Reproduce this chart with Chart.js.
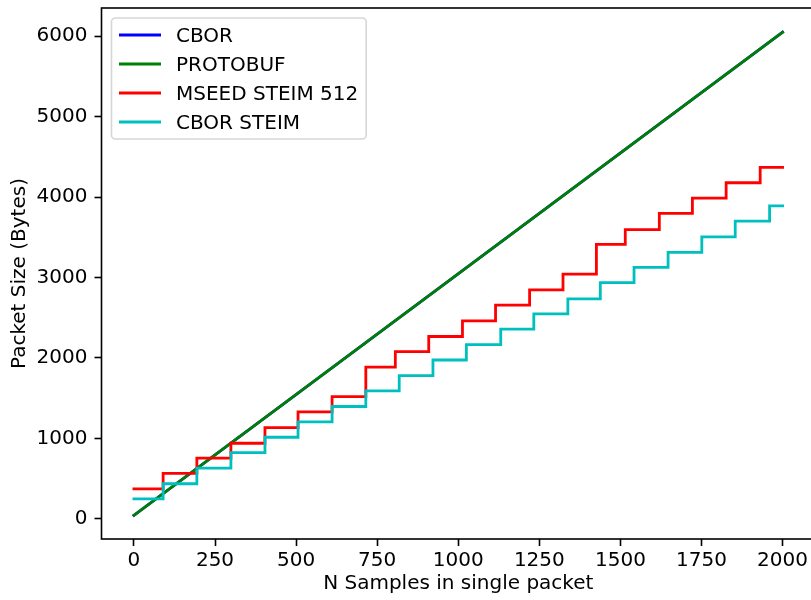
<!DOCTYPE html>
<html>
<head>
<meta charset="utf-8">
<script src="https://cdn.jsdelivr.net/npm/chart.js@4.4.1/dist/chart.umd.min.js"></script>
<style>
  html, body { margin: 0; padding: 0; background: #fff; overflow: hidden; }
  #wrap { position: absolute; left: 0; top: 0; width: 815px; height: 600px; }
</style>
</head>
<body>
<div id="wrap"><canvas id="grafico" width="815" height="600"></canvas></div>
<script>
// valores
const nSamples = [0, 2000];
const cborBytes = [45, 6050];
const protobufBytes = [45, 6050];

const mseedSteps = [0, 90, 194, 299, 404, 506, 611, 715, 806, 909, 1013, 1115, 1220, 1323, 1426, 1515, 1620, 1722, 1826, 1931, 2000];
const mseedBytes = [373, 565, 754, 940, 1134, 1330, 1520, 1886, 2079, 2267, 2460, 2658, 2847, 3043, 3412, 3595, 3797, 3986, 4178, 4369, 4369];

const cborSteimSteps = [0, 90, 194, 299, 404, 506, 611, 715, 818, 922, 1025, 1131, 1233, 1338, 1438, 1542, 1647, 1751, 1854, 1960, 2000];
const cborSteimBytes = [248, 437, 630, 824, 1015, 1207, 1397, 1590, 1781, 1975, 2165, 2358, 2547, 2735, 2936, 3127, 3313, 3505, 3702, 3890, 3890];

const xTicks = [0, 250, 500, 750, 1000, 1250, 1500, 1750, 2000];
const yTicks = [0, 1000, 2000, 3000, 4000, 5000, 6000];

const FUENTE = 'DejaVu Sans';
const TAM = 20;

function puntos(xs, ys) {
    return xs.map((x, i) => ({ x: x, y: ys[i] }));
}

// marco de los ejes y leyenda estilo matplotlib
const marcoPlugin = {
    id: 'marco',
    afterDatasetsDraw(chart) {
        const ctx = chart.ctx;
        const a = chart.chartArea;
        ctx.save();
        ctx.strokeStyle = '#000';
        ctx.lineWidth = 1.6;
        ctx.strokeRect(a.left, a.top, a.right - a.left, a.bottom - a.top);

        // leyenda
        ctx.font = TAM + 'px "' + FUENTE + '"';
        const sets = chart.data.datasets;
        let maxW = 0;
        sets.forEach(d => { maxW = Math.max(maxW, ctx.measureText(d.label).width); });
        const x0 = 111.5, y0 = 18, x1 = 176 + maxW + 8, y1 = 139, r = 4;
        ctx.beginPath();
        ctx.moveTo(x0 + r, y0);
        ctx.lineTo(x1 - r, y0);
        ctx.arcTo(x1, y0, x1, y0 + r, r);
        ctx.lineTo(x1, y1 - r);
        ctx.arcTo(x1, y1, x1 - r, y1, r);
        ctx.lineTo(x0 + r, y1);
        ctx.arcTo(x0, y1, x0, y1 - r, r);
        ctx.lineTo(x0, y0 + r);
        ctx.arcTo(x0, y0, x0 + r, y0, r);
        ctx.closePath();
        ctx.fillStyle = 'rgba(255,255,255,0.8)';
        ctx.fill();
        ctx.strokeStyle = 'rgba(204,204,204,0.8)';
        ctx.lineWidth = 1.6;
        ctx.stroke();

        sets.forEach((d, i) => {
            const yy = 35 + i * 29;
            ctx.beginPath();
            ctx.moveTo(119, yy);
            ctx.lineTo(161, yy);
            ctx.strokeStyle = d.borderColor;
            ctx.lineWidth = 2.8;
            ctx.stroke();
            ctx.fillStyle = '#000';
            ctx.textBaseline = 'alphabetic';
            ctx.textAlign = 'left';
            ctx.fillText(d.label, 176, yy + 7);
        });
        ctx.restore();
    }
};

const ejeComun = {
    type: 'linear',
    grid: { display: true, drawOnChartArea: false, drawTicks: true, tickLength: 7, tickWidth: 1.6, tickColor: '#000' },
    border: { display: false },
    ticks: { color: '#000', font: { family: FUENTE, size: TAM }, maxRotation: 0, autoSkip: false, callback: v => String(v) }
};

new Chart(document.getElementById('grafico'), {
    type: 'line',
    data: {
        datasets: [
            { label: 'CBOR', data: puntos(nSamples, cborBytes), borderColor: '#0000ff', order: 4 },
            { label: 'PROTOBUF', data: puntos(nSamples, protobufBytes), borderColor: '#008000', order: 3 },
            { label: 'MSEED STEIM 512', data: puntos(mseedSteps, mseedBytes), borderColor: '#ff0000', stepped: true, order: 2 },
            { label: 'CBOR STEIM', data: puntos(cborSteimSteps, cborSteimBytes), borderColor: '#00bfbf', stepped: true, order: 1 }
        ].map(d => Object.assign({
            borderWidth: 2.8,
            pointRadius: 0,
            fill: false,
            tension: 0,
            borderJoinStyle: 'miter',
            borderCapStyle: 'square'
        }, d))
    },
    options: {
        responsive: false,
        animation: false,
        layout: { padding: { top: 8, left: 0, right: 0, bottom: 0 } },
        plugins: { legend: { display: false }, tooltip: { enabled: false } },
        scales: {
            x: Object.assign({}, ejeComun, {
                min: -100, max: 2100,
                afterBuildTicks: s => { s.ticks = xTicks.map(v => ({ value: v })); },
                afterFit: s => { s.height = 61; s.paddingLeft = 0; s.paddingRight = 0; },
                ticks: Object.assign({}, ejeComun.ticks, { padding: 3 }),
                title: { display: true, text: 'N Samples in single packet', color: '#000', font: { family: FUENTE, size: TAM }, padding: { top: 0, bottom: 4 } }
            }),
            y: Object.assign({}, ejeComun, {
                min: -250, max: 6350,
                afterBuildTicks: s => { s.ticks = yTicks.map(v => ({ value: v })); },
                afterFit: s => { s.width = 101.5; s.paddingTop = 0; s.paddingBottom = 0; },
                ticks: Object.assign({}, ejeComun.ticks, { padding: 7 }),
                title: { display: true, text: 'Packet Size (Bytes)', color: '#000', font: { family: FUENTE, size: TAM }, padding: { top: 8, bottom: 0 } }
            })
        }
    },
    plugins: [marcoPlugin]
});
</script>
</body>
</html>
